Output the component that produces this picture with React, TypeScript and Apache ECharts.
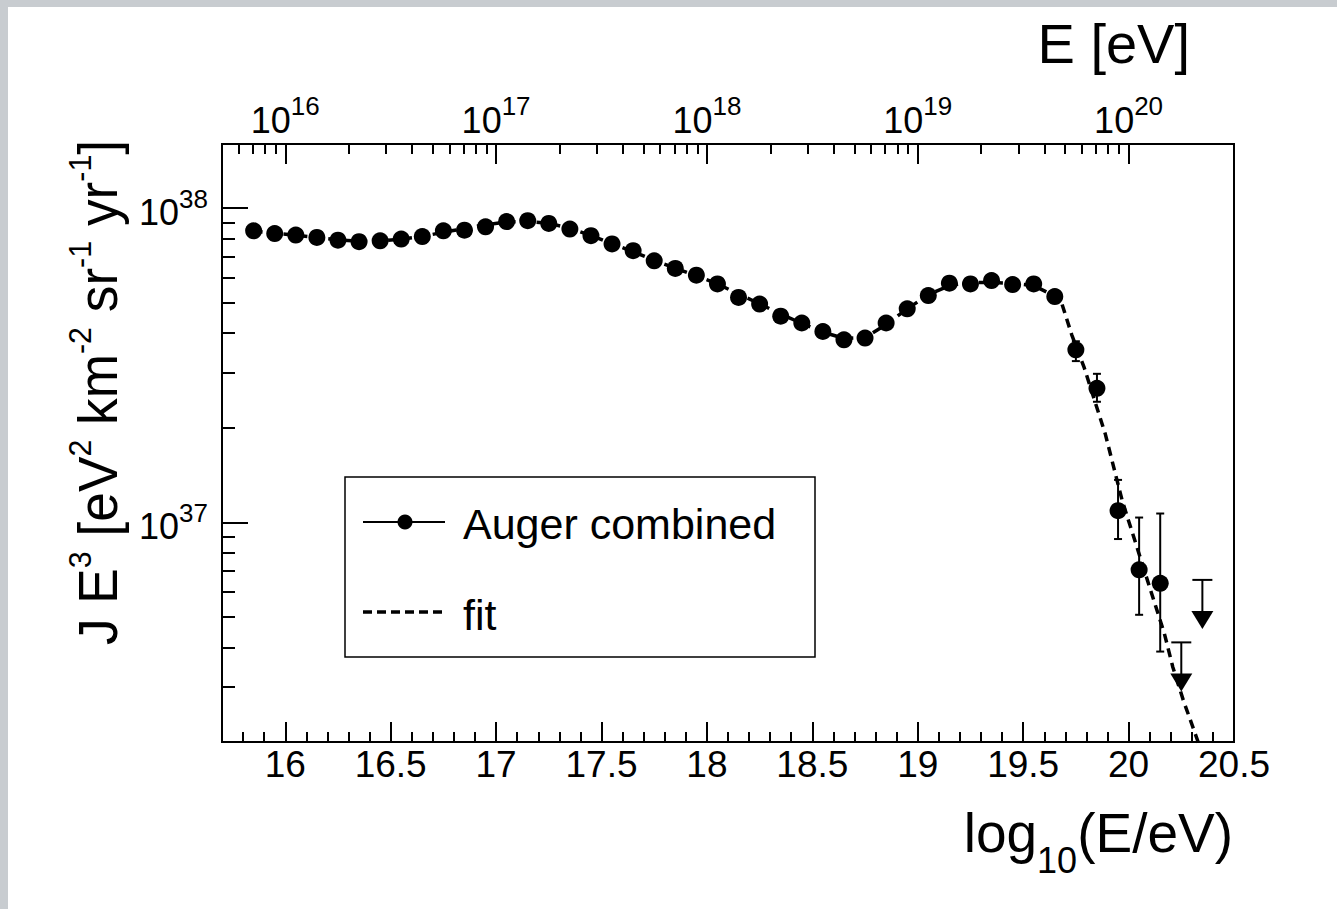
import React, { useEffect, useRef } from "react";
import * as echarts from "echarts";

// ---------------- data ----------------
const logE = [
  15.85, 15.95, 16.05, 16.15, 16.25, 16.35, 16.45, 16.55, 16.65, 16.75,
  16.85, 16.95, 17.05, 17.15, 17.25, 17.35, 17.45, 17.55, 17.65, 17.75,
  17.85, 17.95, 18.05, 18.15, 18.25, 18.35, 18.45, 18.55, 18.65, 18.75,
  18.85, 18.95, 19.05, 19.15, 19.25, 19.35, 19.45, 19.55, 19.65, 19.75,
  19.85, 19.95, 20.05, 20.15,
];
const fluxE3 = [
  8.47e37, 8.30e37, 8.21e37, 8.07e37, 7.91e37, 7.82e37, 7.87e37, 7.97e37, 8.12e37, 8.47e37,
  8.51e37, 8.72e37, 9.06e37, 9.12e37, 8.94e37, 8.58e37, 8.17e37, 7.69e37, 7.32e37, 6.80e37,
  6.43e37, 6.12e37, 5.74e37, 5.20e37, 4.95e37, 4.53e37, 4.31e37, 4.05e37, 3.81e37, 3.86e37,
  4.31e37, 4.78e37, 5.27e37, 5.77e37, 5.74e37, 5.88e37, 5.71e37, 5.74e37, 5.23e37, 3.54e37,
  2.67e37, 1.089e37, 7.06e36, 6.40e36,
];

const errX = [19.75, 19.85, 19.95, 20.05, 20.15];
const errLow = [3.26e37, 2.42e37, 8.85e36, 5.08e36, 3.88e36];
const errHigh = [3.77e37, 2.97e37, 1.365e37, 1.036e37, 1.067e37];

const upperLimitX = [20.25, 20.35];
const upperLimitVal = [4.15e36, 6.56e36];

const fitX = [
  15.85, 15.95, 16.05, 16.15, 16.25, 16.35, 16.45, 16.55, 16.65, 16.75,
  16.85, 16.95, 17.05, 17.15, 17.25, 17.35, 17.45, 17.55, 17.65, 17.75,
  17.85, 17.95, 18.05, 18.15, 18.25, 18.35, 18.45, 18.55, 18.65, 18.75,
  18.85, 18.95, 19.05, 19.15, 19.25, 19.35, 19.45, 19.55, 19.65, 19.68,
  19.73, 19.79, 19.84, 19.89, 19.93, 19.97, 20.02, 20.07, 20.12, 20.17,
  20.21, 20.26, 20.33, 20.37,
];
const fitY = [
  8.45e37, 8.32e37, 8.20e37, 8.06e37, 7.93e37, 7.85e37, 7.86e37, 7.96e37, 8.13e37, 8.38e37,
  8.62e37, 8.86e37, 9.03e37, 9.08e37, 8.95e37, 8.63e37, 8.19e37, 7.71e37, 7.27e37, 6.82e37,
  6.44e37, 6.09e37, 5.74e37, 5.33e37, 4.96e37, 4.60e37, 4.30e37, 4.03e37, 3.85e37, 3.87e37,
  4.26e37, 4.78e37, 5.30e37, 5.67e37, 5.80e37, 5.80e37, 5.76e37, 5.67e37, 5.25e37, 5.05e37,
  3.96e37, 3.10e37, 2.43e37, 1.906e37, 1.493e37, 1.171e37, 9.18e36, 7.19e36, 5.64e36, 4.42e36,
  3.46e36, 2.71e36, 2.0e36, 1.7e36,
];

const bottomTickLabels = [16, 16.5, 17, 17.5, 18, 18.5, 19, 19.5, 20, 20.5];
const topTickExponents = [16, 17, 18, 19, 20];
const yTickExponents = [37, 38];

// ---------------- axis ranges ----------------
const X_MIN = 15.7;
const X_MAX = 20.5;
const Y_MIN_VAL = 2e36;
const Y_MAX_VAL = 1.6e38;

const FONT = '"Liberation Sans", Arial, Helvetica, sans-serif';
const L10 = (v: number) => Math.log10(v);

// minor ticks
const bottomMinor: number[] = [];
for (let i = 158; i <= 204; i++) if (i % 5 !== 0) bottomMinor.push(i / 10);
const topMinor: number[] = [];
for (let n = 15; n <= 19; n++)
  for (let k = 2; k <= 9; k++) {
    const v = n + Math.log10(k);
    if (v > X_MIN && v < X_MAX) topMinor.push(v);
  }
const yMinor: number[] = [];
for (let n = 36; n <= 37; n++)
  for (let k = 2; k <= 9; k++) {
    const v = n + Math.log10(k);
    if (v > L10(Y_MIN_VAL) + 1e-6 && v < L10(Y_MAX_VAL)) yMinor.push(v);
  }

const black = "#000";
const tickStyle = { color: black, width: 2 };
const noSplit = { show: false };

function buildOption(): any {
  const supRich = {
    b: { fontSize: 36, fontFamily: FONT, color: black, verticalAlign: "bottom" },
    s: { fontSize: 26, fontFamily: FONT, color: black, verticalAlign: "bottom", padding: [0, 0, 19, 0] },
  };
  const expFmt = (v: number) => `{b|10}{s|${Math.round(v)}}`;

  const xAxes = [
    {
      type: "value", position: "bottom", min: X_MIN, max: X_MAX,
      axisLine: { show: true, onZero: false, lineStyle: { color: black, width: 2 } },
      splitLine: noSplit,
      axisTick: { show: true, inside: true, length: 20, lineStyle: tickStyle, customValues: bottomTickLabels },
      axisLabel: {
        show: true, customValues: bottomTickLabels, fontSize: 37, fontFamily: FONT, color: black, margin: 4,
        formatter: (v: number) => String(v),
      },
    },
    {
      type: "value", position: "bottom", min: X_MIN, max: X_MAX,
      axisLine: { show: false, onZero: false },
      splitLine: noSplit,
      axisTick: { show: true, inside: true, length: 10, lineStyle: tickStyle, customValues: bottomMinor },
      axisLabel: { show: false },
    },
    {
      type: "value", position: "top", min: X_MIN, max: X_MAX,
      axisLine: { show: true, onZero: false, lineStyle: { color: black, width: 2 } },
      splitLine: noSplit,
      axisTick: { show: true, inside: true, length: 20, lineStyle: tickStyle, customValues: topTickExponents },
      axisLabel: { show: true, customValues: topTickExponents, margin: 6, formatter: expFmt, rich: supRich },
    },
    {
      type: "value", position: "top", min: X_MIN, max: X_MAX,
      axisLine: { show: false, onZero: false },
      splitLine: noSplit,
      axisTick: { show: true, inside: true, length: 10, lineStyle: tickStyle, customValues: topMinor },
      axisLabel: { show: false },
    },
  ];

  const yAxes = [
    {
      type: "value", position: "left", min: L10(Y_MIN_VAL), max: L10(Y_MAX_VAL),
      axisLine: { show: true, onZero: false, lineStyle: { color: black, width: 2 } },
      splitLine: noSplit,
      axisTick: { show: true, inside: true, length: 26, lineStyle: tickStyle, customValues: yTickExponents },
      axisLabel: { show: true, customValues: yTickExponents, margin: 14, formatter: expFmt, rich: supRich },
    },
    {
      type: "value", position: "left", min: L10(Y_MIN_VAL), max: L10(Y_MAX_VAL),
      axisLine: { show: false, onZero: false },
      splitLine: noSplit,
      axisTick: { show: true, inside: true, length: 13, lineStyle: tickStyle, customValues: yMinor },
      axisLabel: { show: false },
    },
  ];

  const errData = errX.map((x, i) => [x, L10(errLow[i]), L10(errHigh[i])]);
  const ulData = upperLimitX.map((x, i) => [x, L10(upperLimitVal[i])]);

  const titleRichY = {
    b: { fontSize: 56, fontFamily: FONT, color: black, verticalAlign: "bottom" },
    s: { fontSize: 32, fontFamily: FONT, color: black, verticalAlign: "bottom", padding: [0, 0, 30, 0] },
  };

  return {
    animation: false,
    backgroundColor: "transparent",
    grid: {
      left: 222, top: 144, right: 103, bottom: 167,
      show: true, borderColor: black, borderWidth: 2, backgroundColor: "transparent",
      containLabel: false, outerBoundsMode: "none",
    },
    xAxis: xAxes,
    yAxis: yAxes,
    series: [
      {
        name: "fit", type: "line", xAxisIndex: 0, yAxisIndex: 0,
        data: fitX.map((x, i) => [x, L10(fitY[i])]),
        symbol: "none", showSymbol: false, clip: true, z: 2,
        lineStyle: { color: black, width: 3.5, type: [9, 6], opacity: 1 },
      },
      {
        name: "Auger combined", type: "custom", xAxisIndex: 0, yAxisIndex: 0, z: 3,
        data: errData,
        renderItem: (params: any, api: any) => {
          const x = api.value(0);
          const lo = api.coord([x, api.value(1)]);
          const hi = api.coord([x, api.value(2)]);
          const st = { stroke: black, lineWidth: 2 };
          const cap = 4;
          return {
            type: "group",
            children: [
              { type: "line", shape: { x1: lo[0], y1: lo[1], x2: hi[0], y2: hi[1] }, style: st },
              { type: "line", shape: { x1: lo[0] - cap, y1: lo[1], x2: lo[0] + cap, y2: lo[1] }, style: st },
              { type: "line", shape: { x1: hi[0] - cap, y1: hi[1], x2: hi[0] + cap, y2: hi[1] }, style: st },
            ],
          };
        },
      },
      {
        name: "Auger combined", type: "scatter", xAxisIndex: 0, yAxisIndex: 0, z: 4,
        data: logE.map((x, i) => [x, L10(fluxE3[i])]),
        symbol: "circle", symbolSize: 17,
        itemStyle: { color: black, borderWidth: 0, opacity: 1 },
      },
      {
        name: "Auger combined", type: "custom", xAxisIndex: 0, yAxisIndex: 0, z: 4,
        data: ulData,
        renderItem: (params: any, api: any) => {
          const p = api.coord([api.value(0), api.value(1)]);
          const st = { stroke: black, lineWidth: 2 };
          return {
            type: "group",
            children: [
              { type: "line", shape: { x1: p[0] - 10, y1: p[1], x2: p[0] + 10, y2: p[1] }, style: st },
              { type: "line", shape: { x1: p[0], y1: p[1], x2: p[0], y2: p[1] + 32 }, style: st },
              {
                type: "polygon",
                shape: { points: [[p[0] - 11, p[1] + 31], [p[0] + 11, p[1] + 31], [p[0], p[1] + 49]] },
                style: { fill: black },
              },
            ],
          };
        },
      },
    ],
    graphic: [
      // axis titles
      {
        type: "text", x: 1190, y: 43.6, z: 10,
        style: {
          text: "E [eV]", fontSize: 56, fontFamily: FONT, fill: black,
          align: "right", textAlign: "right", verticalAlign: "middle", textVerticalAlign: "middle",
        },
      },
      {
        type: "text", x: 1233, y: 805, z: 10,
        style: {
          text: "{b|log}{u|10}{b|(E/eV)}", fill: black,
          align: "right", textAlign: "right", verticalAlign: "top", textVerticalAlign: "top",
          rich: {
            b: { fontSize: 55, fontFamily: FONT, color: black, verticalAlign: "top" },
            u: { fontSize: 36, fontFamily: FONT, color: black, verticalAlign: "top", padding: [37, 0, 0, 0] },
          },
        },
      },
      {
        type: "text", x: 95, y: 645, rotation: Math.PI / 2, scaleX: 0.95, z: 10,
        style: {
          text: "{b|J E}{s|3}{b| [eV}{s|2}{b| km}{s|-2}{b| sr}{s|-1}{b| yr}{s|-1}{b|]}",
          fill: black,
          align: "left", textAlign: "left", verticalAlign: "middle", textVerticalAlign: "middle",
          rich: titleRichY,
        },
      },
      // legend box
      {
        type: "rect", z: 10,
        shape: { x: 345, y: 477, width: 470, height: 180 },
        style: { fill: "#fff", stroke: black, lineWidth: 1.5 },
      },
      {
        type: "line", z: 11,
        shape: { x1: 363, y1: 522, x2: 445, y2: 522 },
        style: { stroke: black, lineWidth: 2 },
      },
      {
        type: "circle", z: 11,
        shape: { cx: 405, cy: 522, r: 7.5 },
        style: { fill: black },
      },
      {
        type: "text", x: 463, y: 524.4, z: 11,
        style: {
          text: "Auger combined", fontSize: 43, fontFamily: FONT, fill: black,
          align: "left", textAlign: "left", verticalAlign: "middle", textVerticalAlign: "middle",
        },
      },
      {
        type: "line", z: 11,
        shape: { x1: 363, y1: 612, x2: 445, y2: 612 },
        style: { stroke: black, lineWidth: 3.5, lineDash: [9, 5] },
      },
      {
        type: "text", x: 463, y: 615.4, z: 11,
        style: {
          text: "fit", fontSize: 43, fontFamily: FONT, fill: black,
          align: "left", textAlign: "left", verticalAlign: "middle", textVerticalAlign: "middle",
        },
      },
    ],
  };
}

export default function App() {
  const ref = useRef<HTMLDivElement>(null);
  useEffect(() => {
    if (!ref.current) return;
    const chart = echarts.init(ref.current, null, { renderer: "svg" });
    chart.setOption(buildOption());
    return () => chart.dispose();
  }, []);
  return (
    <div style={{ position: "fixed", left: 0, top: 0, width: 1337, height: 909, background: "#c8ccd0", overflow: "hidden" }}>
      <div style={{ position: "absolute", left: 8, top: 7, right: 0, bottom: 0, background: "#fff" }} />
      <div ref={ref} style={{ position: "absolute", left: 0, top: 0, width: 1337, height: 909 }} />
    </div>
  );
}
